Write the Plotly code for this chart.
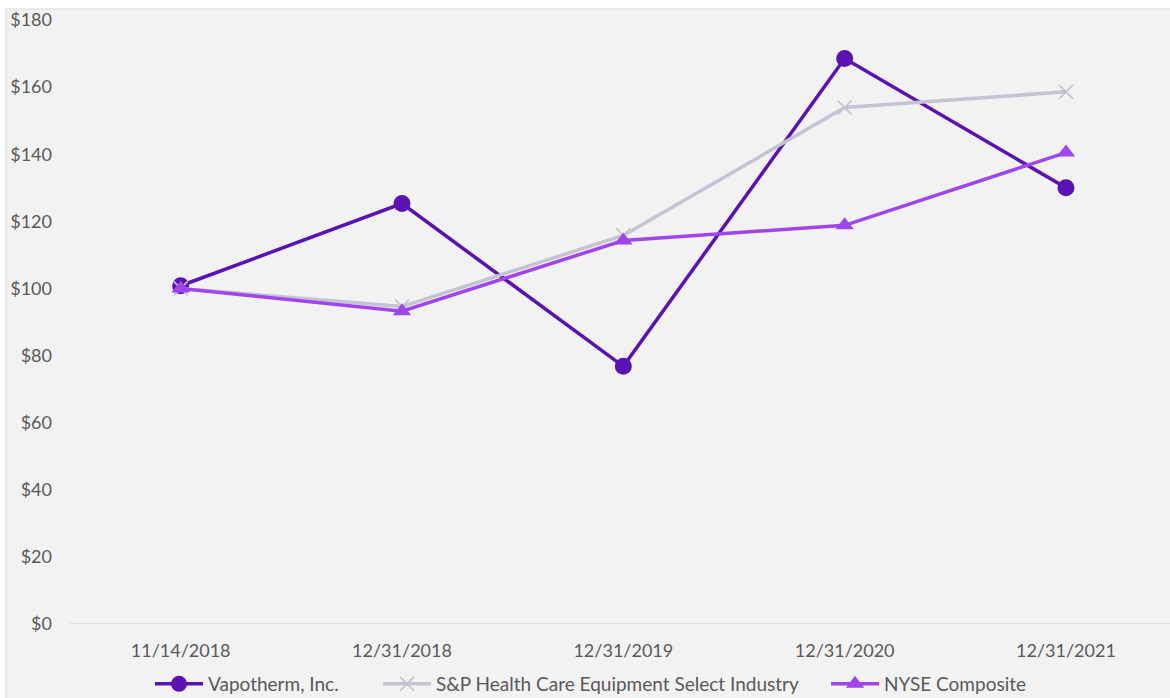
import plotly.graph_objects as go

dates = ["11/14/2018", "12/31/2018", "12/31/2019", "12/31/2020", "12/31/2021"]
vapotherm = [100.8, 125.3, 76.8, 168.5, 130.0]
sp_health = [100.0, 94.6, 115.8, 153.9, 158.6]
nyse = [100.0, 93.2, 114.3, 118.8, 140.5]
y_ticks = [0, 20, 40, 60, 80, 100, 120, 140, 160, 180]

W, H = 1170, 698
L, R, T, B = 70, 0, 20, 74
pw, ph = W - L - R, H - T - B

def px_x(p):
    return (p - L) / pw

def px_y(p):
    return (H - B - p) / ph

fig = go.Figure()
fig.add_trace(go.Scatter(
    x=dates, y=vapotherm, name="Vapotherm, Inc.", mode="lines+markers",
    line=dict(color="#5b12b3", width=3.5),
    marker=dict(symbol="circle", size=17, color="#5b12b3"),
    cliponaxis=False, legend="legend",
))
fig.add_trace(go.Scatter(
    x=dates, y=sp_health, name="S&P Health Care Equipment Select Industry", mode="lines+markers",
    line=dict(color="#c3c3d3", width=3.5),
    marker=dict(symbol="x-thin", size=14, color="#c3c3d3", line=dict(color="#c3c3d3", width=1.6)),
    cliponaxis=False, legend="legend2",
))
fig.add_trace(go.Scatter(
    x=dates, y=nyse, name="NYSE Composite", mode="lines+markers",
    line=dict(color="#a045ee", width=3.5),
    marker=dict(symbol="triangle-up", size=16, color="#a045ee"),
    cliponaxis=False, legend="legend3",
))

fig.add_shape(type="rect", xref="paper", yref="paper",
              x0=px_x(6), x1=px_x(1200), y0=px_y(760), y1=px_y(9),
              fillcolor="#f2f2f2", line=dict(color="#d9d9d9", width=1), layer="below")
fig.add_shape(type="line", xref="paper", yref="y", x0=0, x1=1, y0=0, y1=0,
              line=dict(color="#d9d9d9", width=1.5), layer="below")

font_fam = "Lato, 'Open Sans', sans-serif"
leg_common = dict(orientation="h", yanchor="middle", y=px_y(684), xanchor="left",
                  font=dict(size=19, color="#595959"), bgcolor="rgba(0,0,0,0)",
                  itemwidth=48, borderwidth=0)
fig.update_layout(
    width=W, height=H,
    margin=dict(l=L, r=R, t=T, b=B, autoexpand=False),
    paper_bgcolor="white",
    plot_bgcolor="rgba(0,0,0,0)",
    font=dict(family=font_fam, size=18, color="#595959"),
    xaxis=dict(type="category", range=[-0.5, 4.47], showgrid=False, zeroline=False,
               showline=False, ticks="", ticklabelstandoff=14,
               tickfont=dict(size=18, color="#595959")),
    yaxis=dict(range=[0, 180], tickvals=y_ticks, ticktext=[f"${v}" for v in y_ticks],
               showgrid=False, zeroline=False, showline=False, ticks="",
               ticklabelstandoff=17, tickfont=dict(size=18, color="#595959")),
    legend=dict(leg_common, x=px_x(150)),
    legend2=dict(leg_common, x=px_x(378)),
    legend3=dict(leg_common, x=px_x(826)),
    showlegend=True,
)

fig.write_html("out.html")
